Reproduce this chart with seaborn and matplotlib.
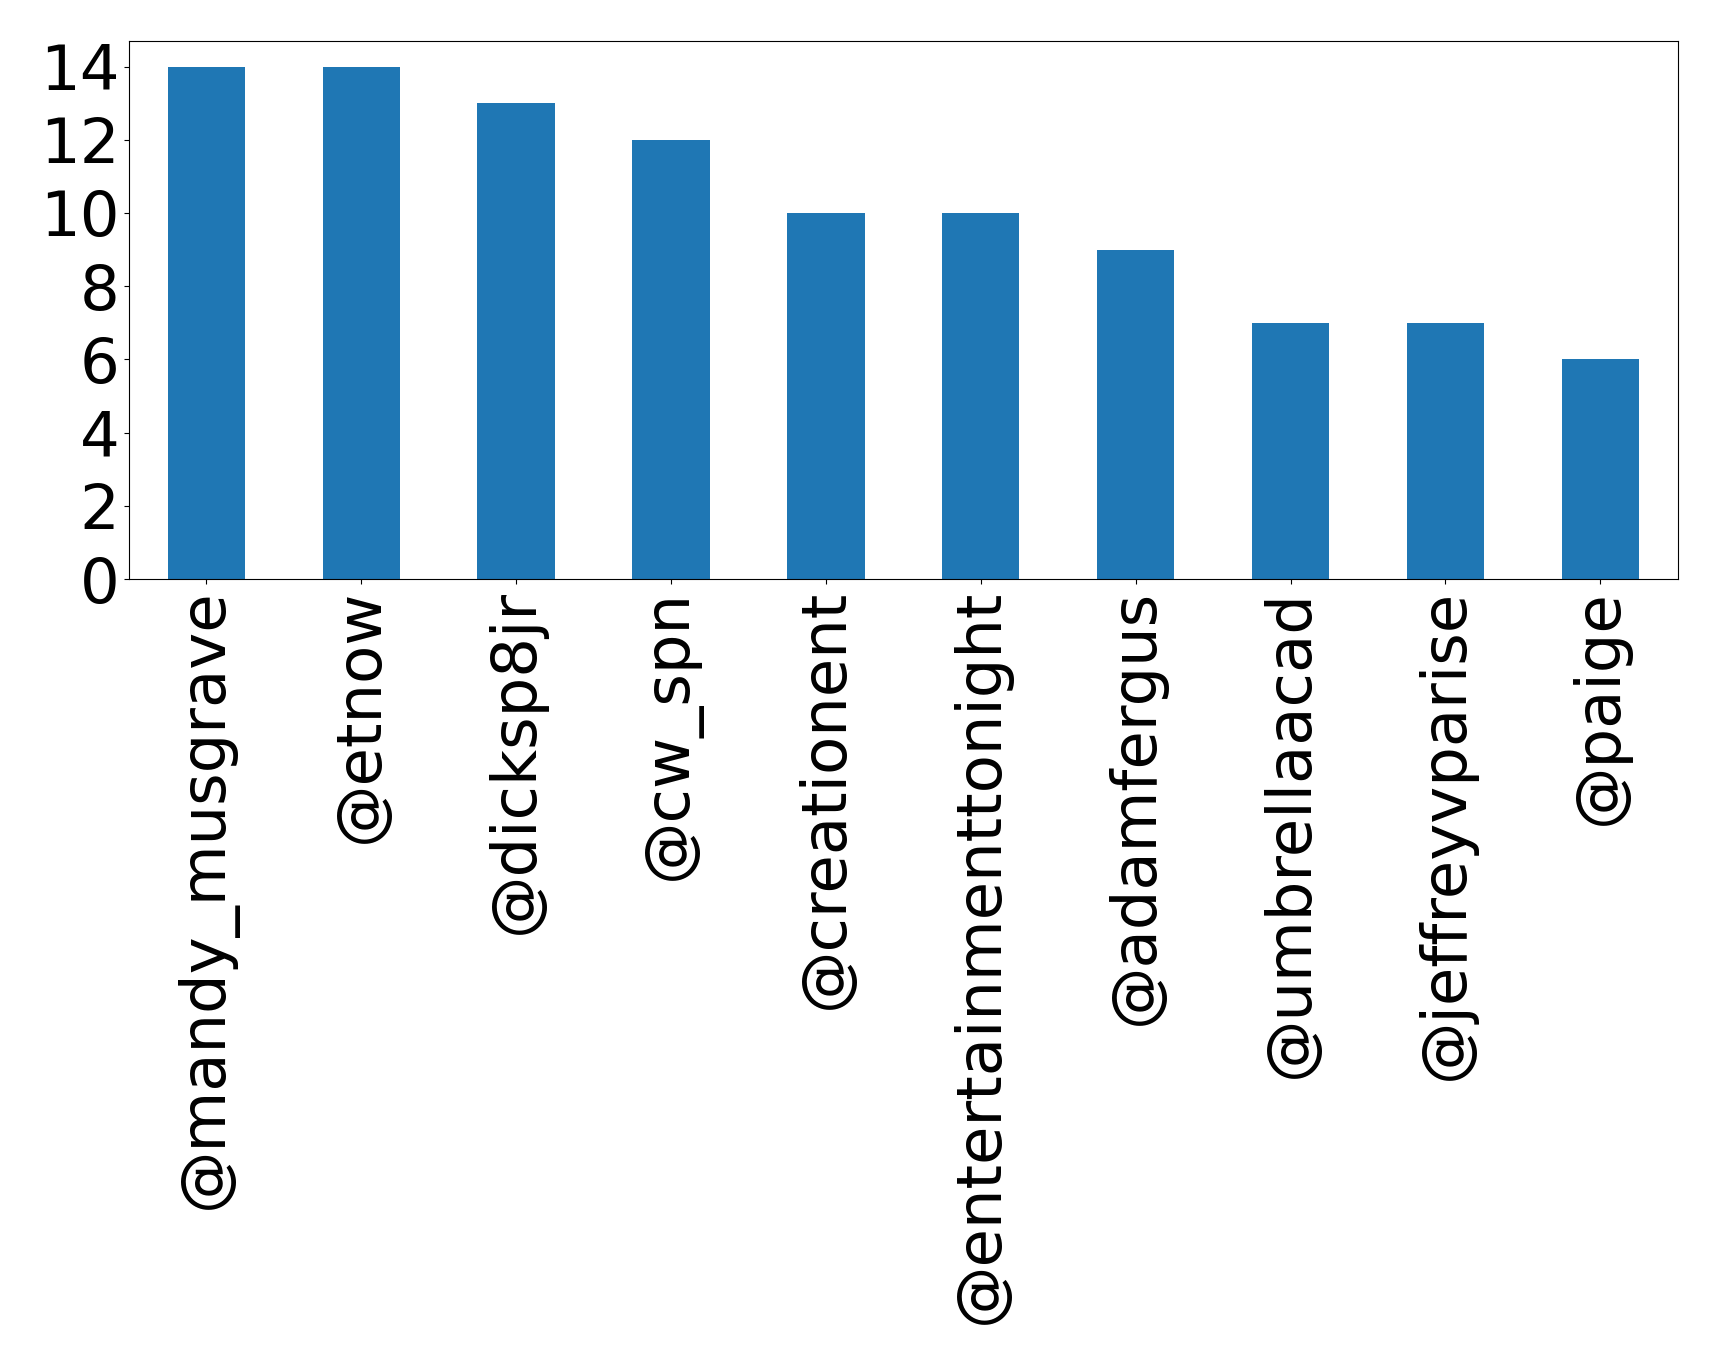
import matplotlib
matplotlib.use("Agg")
import matplotlib.pyplot as plt
import seaborn as sns
import pandas as pd

HANDLES = ["@mandy_musgrave", "@etnow", "@dicksp8jr", "@cw_spn", "@creationent",
           "@entertainmenttonight", "@adamfergus", "@umbrellaacad", "@jeffreyvparise", "@paige"]
COUNTS = [14, 14, 13, 12, 10, 10, 9, 7, 7, 6]
Y_TICKS = [0, 2, 4, 6, 8, 10, 12, 14]

df = pd.DataFrame({"handle": HANDLES, "count": COUNTS})

fig, ax = plt.subplots(figsize=(17.19, 13.64), dpi=100)
sns.barplot(data=df, x="handle", y="count", color="#1f77b4", saturation=1,
            width=0.5, ax=ax)
ax.set_xlim(-0.5, len(HANDLES) - 0.5)
ax.set_ylim(0, 14.7)
ax.set_yticks(Y_TICKS)
ax.set_xlabel("")
ax.set_ylabel("")
ax.tick_params(axis="both", labelsize=45)
plt.setp(ax.get_xticklabels(), rotation=90)

fig.subplots_adjust(left=0.075, right=0.976, top=0.970, bottom=0.5755)
fig.savefig("out.png", dpi=100)
